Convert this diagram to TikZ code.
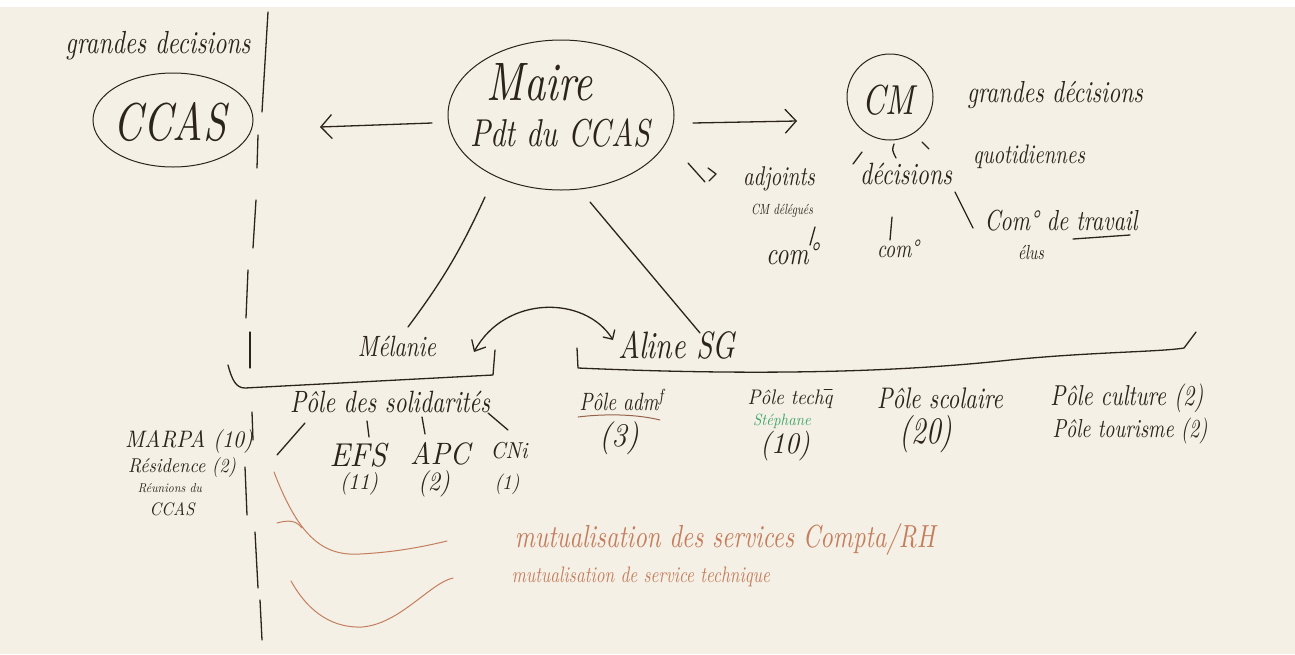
\documentclass[tikz,border=0pt]{standalone}
\usepackage{fontspec}
\usepackage{graphicx}
\usetikzlibrary{arrows.meta,shapes.geometric}
\definecolor{board}{HTML}{F4F0E6}
\definecolor{ink}{HTML}{2A241B}
\definecolor{rust}{HTML}{C47E5E}
\definecolor{grn}{HTML}{3FA565}
\newcommand{\hwtxt}[2]{\scalebox{1}[1.3]{\resizebox{#1pt}{!}{\itshape #2}}}
\newcommand{\hwflat}[2]{\scalebox{1}[1.1]{\resizebox{#1pt}{!}{\itshape #2}}}
\tikzset{
  txt/.style={inner sep=0pt, text=ink},
  rtxt/.style={inner sep=0pt, text=rust},
  pen/.style={draw=ink, line width=1.3pt, line cap=round, line join=round},
  thin pen/.style={draw=ink, line width=1pt, line cap=round},
  rpen/.style={draw=rust, line width=1pt, line cap=round},
  barb/.style={-{Straight Barb[length=11pt,width=24pt,line width=1.3pt]}},
  dbarb/.style={{Straight Barb[length=9pt,width=16pt,line width=1.3pt]}-{Straight Barb[length=7pt,width=14pt,line width=1.3pt]}}
}
\begin{document}
\begin{tikzpicture}[x=1pt,y=-1pt]
\useasboundingbox (0,0) rectangle (1295,654);
\fill[white] (0,0) rectangle (1295,654);
\fill[board] (0,7) rectangle (1295,654);

% ---------- left column ----------
\node[txt] (gdL) at (158,46) {\hwtxt{185}{grandes decisions}};
\node[thin pen, ellipse, minimum width=160pt, minimum height=94pt, inner sep=0pt] (ccasE) at (173,120) {};
\node[txt] (ccas) at (170,122) {\hwtxt{112}{CCAS}};

% dashed vertical separator
\draw[pen] (268,12) -- (262,112);
\draw[pen] (258,135) -- (257,168);
\draw[pen] (256,200) -- (253,248);
\draw[pen] (248,270) -- (246,318);
\draw[pen] (250,332) -- (250,368);
\draw[pen] (252,412) -- (253,440);
\draw[pen] (245,467) -- (247,515);
\draw[pen] (255,532) -- (258,588);
\draw[pen] (260,600) -- (262,640);

% ---------- Maire ----------
\node[draw=ink, line width=1pt, ellipse, minimum width=226pt, minimum height=150pt, inner sep=0pt] (maire) at (561,115) {};
\node[txt] (maireT) at (540,82) {\hwtxt{106}{Maire}};
\node[txt] (pdt) at (560,133) {\hwtxt{180}{Pdt du CCAS}};

\coordinate (aL1) at (432,123);
\coordinate (aL2) at (320,127);
\draw[pen, barb] (aL1) -- (aL2);
\coordinate (aR1) at (693,123);
\coordinate (aR2) at (797,121);
\draw[pen, barb] (aR1) -- (aR2);

% ---------- CM ----------
\node[draw=ink, line width=1pt, ellipse, minimum width=86pt, minimum height=86pt, inner sep=0pt] (cm) at (890,97) {};
\node[txt] (cmT) at (888,100) {\hwtxt{52}{CM}};
\node[txt] (gdR) at (1055,95) {\hwtxt{176}{grandes décisions}};

\draw[pen] (862,152) -- (853,164);
\draw[pen] (894,144) .. controls (892,150) .. (896,158);
\draw[pen] (922,142) -- (929,149);

\node[txt] (dec) at (906,174) {\hwtxt{92}{décisions}};
\node[txt] (quot) at (1029,157) {\hwtxt{112}{quotidiennes}};

\draw[pen] (688,163) -- (705,182);
\draw[pen] (708,168) -- (716,174) -- (709,181);
\node[txt] (adj) at (779,179) {\hwtxt{72}{adjoints}};
\node[txt] (cmdel) at (782,211) {\hwtxt{62}{CM délégués}};
\draw[pen] (815,227) -- (810,245);
\node[txt] (com1) at (792,254) {\hwtxt{52}{com°}};
\draw[pen] (892,217) -- (890,240);
\node[txt] (com2) at (898,249) {\hwtxt{42}{com°}};
\draw[pen] (955,192) -- (973,228);
\node[txt] (comtr) at (1061,221) {\hwtxt{153}{Com° de travail}};
\draw[pen] (1073,239) -- (1130,235);
\node[txt] (elus) at (1031,253) {\hwtxt{26}{élus}};

% ---------- Mélanie / Aline ----------
\coordinate (mL1) at (485,197);
\coordinate (mL2) at (408,327);
\draw[pen] (mL1) to[bend left=6] (mL2);
\coordinate (aS1) at (590,202);
\coordinate (aS2) at (700,333);
\draw[pen] (aS1) -- (aS2);

\node[txt] (mel) at (397,346) {\hwtxt{78}{Mélanie}};
\node[txt] (aline) at (677,345) {\hwtxt{117}{Aline SG}};
\coordinate (dA) at (474,352);
\coordinate (dB) at (613,340);
\draw[pen, dbarb] (dA) .. controls (505,295) and (585,295) .. (dB);

% brackets
\draw[pen] (228,365) .. controls (232,380) and (236,388) .. (245,388) -- (493,375) -- (495,350);
\draw[pen] (577,348) -- (578,368) .. controls (760,376) and (900,372) .. (1010,360) .. controls (1090,352) and (1160,352) .. (1184,348) -- (1196,332);

% ---------- Pôle des solidarités ----------
\node[txt] (sol) at (390,402) {\hwtxt{200}{Pôle des solidarités}};
\node[txt] (marpa) at (189,442) {\hwflat{128}{MARPA (10)}};
\node[txt] (resid) at (182,467) {\hwflat{108}{Résidence (2)}};
\node[txt] (reun) at (170,488) {\hwflat{64}{Réunions du}};
\node[txt] (ccas2) at (172,509) {\hwflat{45}{CCAS}};

\draw[pen] (277,455) -- (305,423);
\draw[pen] (367,421) -- (369,437);
\node[txt] (efs) at (358,455) {\hwflat{57}{EFS}};
\node[txt] (efsn) at (359,484) {\hwflat{38}{(11)}};
\draw[pen] (422,417) -- (425,434);
\node[txt] (apc) at (440,454) {\hwflat{60}{APC}};
\node[txt] (apcn) at (434,484) {\hwflat{32}{(2)}};
\draw[pen] (488,413) -- (508,430);
\node[txt] (cni) at (509,451) {\hwflat{37}{CNi}};
\node[txt] (cnin) at (507,484) {\hwflat{25}{(1)}};

% ---------- Pôles of Aline ----------
\node[txt] (adm) at (622,400) {\hwtxt{85}{Pôle adm\textsuperscript{f}}};
\draw[draw=rust!70!ink, line width=1pt, line cap=round] (578,417) .. controls (610,413) and (640,415) .. (660,420);
\node[txt] (admn) at (619,438) {\hwflat{40}{(3)}};
\node[txt] (tech) at (790,399) {\hwflat{85}{Pôle techq}};
\draw[draw=ink, line width=1pt, line cap=round] (824,389) -- (832,389);
\node[inner sep=0pt, text=grn] (steph) at (782,421) {\hwflat{58}{Stéphane}};
\node[txt] (techn) at (785,446) {\hwflat{50}{(10)}};
\node[txt] (scol) at (940,398) {\hwtxt{126}{Pôle scolaire}};
\node[txt] (scoln) at (926,434) {\hwtxt{53}{(20)}};
\node[txt] (cult) at (1127,398) {\hwtxt{153}{Pôle culture (2)}};
\node[txt] (tour) at (1130,431) {\hwtxt{155}{Pôle tourisme (2)}};

% ---------- mutualisation ----------
\draw[rpen] (274,472) .. controls (300,540) and (325,556) .. (360,554) .. controls (400,552) and (430,545) .. (447,541);
\draw[rpen] (277,523) .. controls (288,520) and (296,520) .. (302,528);
\draw[rpen] (291,581) .. controls (310,615) and (335,628) .. (362,627) .. controls (400,624) and (430,583) .. (453,578);
\node[rtxt] (mut1) at (725,540) {\hwtxt{420}{mutualisation des services Compta/RH}};
\node[rtxt] (mut2) at (641,577) {\hwtxt{258}{mutualisation de service technique}};
\end{tikzpicture}
\end{document}
